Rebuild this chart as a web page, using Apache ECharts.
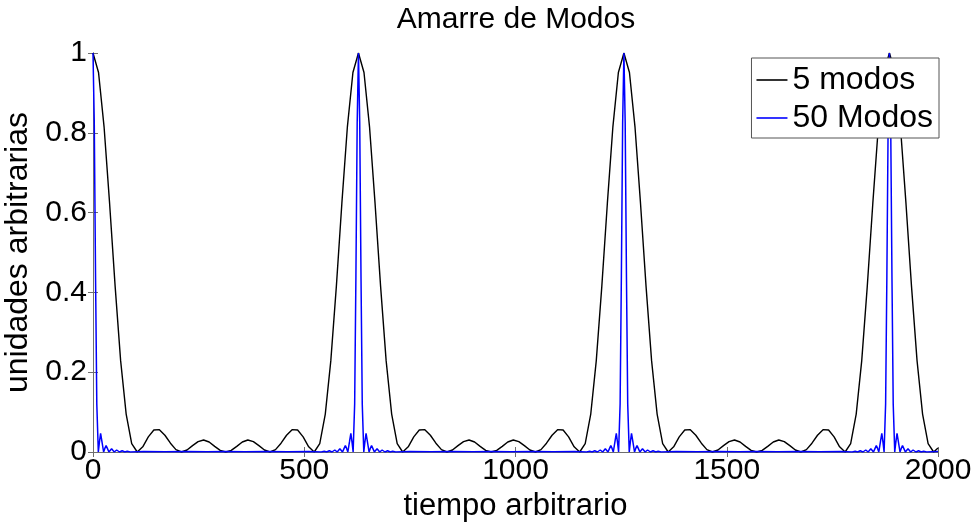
<!DOCTYPE html>
<html>
<head>
<meta charset="utf-8">
<script src="https://cdn.jsdelivr.net/npm/echarts@6/dist/echarts.min.js"></script>
<style>
html,body{margin:0;padding:0;background:#fff;}
#chart{width:979px;height:523px;}
</style>
</head>
<body>
<div id="chart"></div>
<script>
// ---- data ----
var titulo = 'Amarre de Modos';
var nombresSeries = ['5 modos', '50 Modos'];
var xTicks = [0, 500, 1000, 1500, 2000];
var yTicks = [0, 0.2, 0.4, 0.6, 0.8, 1];

// 5 modos (black)
var tiempo5 = [
0,13.1,26.2,39.3,52.4,65.4,78.5,91.6,104.7,117.8,130.9,144.0,157.1,170.2,183.3,196.3,209.4,222.5,235.6,248.7,261.8,274.9,288.0,301.1,
314.2,327.2,340.3,353.4,366.5,379.6,392.7,405.8,418.9,432.0,445.1,458.1,471.2,484.3,497.4,510.5,523.6,536.7,549.8,562.9,576.0,589.0,602.1,615.2,
628.3,641.4,654.5,667.6,680.7,693.8,706.9,720.0,733.0,746.1,759.2,772.3,785.4,798.5,811.6,824.7,837.8,850.8,863.9,877.0,890.1,903.2,916.3,929.4,
942.5,955.6,968.7,981.7,994.8,1007.9,1021.0,1034.1,1047.2,1060.3,1073.4,1086.5,1099.6,1112.7,1125.7,1138.8,1151.9,1165.0,1178.1,1191.2,1204.3,1217.4,1230.5,1243.5,
1256.6,1269.7,1282.8,1295.9,1309.0,1322.1,1335.2,1348.3,1361.4,1374.4,1387.5,1400.6,1413.7,1426.8,1439.9,1453.0,1466.1,1479.2,1492.3,1505.4,1518.4,1531.5,1544.6,1557.7,
1570.8,1583.9,1597.0,1610.1,1623.2,1636.2,1649.3,1662.4,1675.5,1688.6,1701.7,1714.8,1727.9,1741.0,1754.1,1767.1,1780.2,1793.3,1806.4,1819.5,1832.6,1845.7,1858.8,1871.9,
1885.0,1898.1,1911.1,1924.2,1937.3,1950.4,1963.5,1976.6,1989.7,2000
];
var valores5 = [
1,0.951,0.815,0.623,0.415,0.229,0.095,0.021,0,0.013,0.038,0.055,0.056,0.042,0.022,0.006,0,0.005,0.016,0.026,0.030,0.025,0.014,0.004,
0,0.004,0.014,0.025,0.030,0.026,0.016,0.005,0,0.006,0.022,0.042,0.056,0.055,0.038,0.013,0,0.021,0.095,0.229,0.415,0.623,0.815,0.951,
1,0.951,0.815,0.623,0.415,0.229,0.095,0.021,0,0.013,0.038,0.055,0.056,0.042,0.022,0.006,0,0.005,0.016,0.026,0.030,0.025,0.014,0.004,
0,0.004,0.014,0.025,0.030,0.026,0.016,0.005,0,0.006,0.022,0.042,0.056,0.055,0.038,0.013,0,0.021,0.095,0.229,0.415,0.623,0.815,0.951,
1,0.951,0.815,0.623,0.415,0.229,0.095,0.021,0,0.013,0.038,0.055,0.056,0.042,0.022,0.006,0,0.005,0.016,0.026,0.030,0.025,0.014,0.004,
0,0.004,0.014,0.025,0.030,0.026,0.016,0.005,0,0.006,0.022,0.042,0.056,0.055,0.038,0.013,0,0.021,0.095,0.229,0.415,0.623,0.815,0.951,
1,0.951,0.815,0.623,0.415,0.229,0.095,0.021,0,0.010
];

// 50 Modos (blue)
var tiempo50 = [
0,3,6,9,12.6,15,18,21,25.1,28,31,34,37.7,40.5,44,47,50.3,53,56,59,62.8,69,75.4,81,88,
120,170,220,270,314,360,410,460,510,
540.3,547.3,552.9,559.3,565.5,569.3,572.3,575.3,578.0,581.3,584.3,587.8,590.6,594.3,597.3,600.3,603.2,607.3,610.3,613.3,615.7,619.3,622.3,625.3,
628.3,631.3,634.3,637.3,640.9,643.3,646.3,649.3,653.4,656.3,659.3,662.3,666.0,668.8,672.3,675.3,678.6,681.3,684.3,687.3,691.1,697.3,703.7,709.3,716.3,
750,800,850,900,942.5,990,1040,1090,1140,
1168.6,1175.6,1181.2,1187.6,1193.8,1197.6,1200.6,1203.6,1206.3,1209.6,1212.6,1216.1,1218.9,1222.6,1225.6,1228.6,1231.5,1235.6,1238.6,1241.6,1244.0,1247.6,1250.6,1253.6,
1256.6,1259.6,1262.6,1265.6,1269.2,1271.6,1274.6,1277.6,1281.7,1284.6,1287.6,1290.6,1294.3,1297.1,1300.6,1303.6,1306.9,1309.6,1312.6,1315.6,1319.4,1325.6,1332.0,1337.6,1344.6,
1380,1430,1480,1530,1570.8,1620,1670,1720,1770,
1797.0,1804.0,1809.6,1816.0,1822.2,1826.0,1829.0,1832.0,1834.7,1838.0,1841.0,1844.5,1847.3,1851.0,1854.0,1857.0,1859.9,1864.0,1867.0,1870.0,1872.4,1876.0,1879.0,1882.0,
1885.0,1888.0,1891.0,1894.0,1897.6,1900.0,1903.0,1906.0,1910.1,1913.0,1916.0,1919.0,1922.7,1925.5,1929.0,1932.0,1935.3,1938.0,1941.0,1944.0,1947.8,1954.0,1960.4,1966.0,1973.0,
2000
];
var valores50 = [
1,0.826,0.442,0.120,0,0.023,0.047,0.027,0,0.009,0.016,0.009,0,0.004,0.008,0.004,0,0.002,0.005,0.003,0,0.003,0,0.002,0,
0.001,0.0008,0.001,0.0006,0.001,0.0007,0.001,0.0008,0.001,
0,0.002,0,0.003,0,0.003,0.005,0.002,0,0.004,0.008,0.004,0,0.009,0.016,0.009,0,0.027,0.047,0.023,0,0.120,0.442,0.826,
1,0.826,0.442,0.120,0,0.023,0.047,0.027,0,0.009,0.016,0.009,0,0.004,0.008,0.004,0,0.002,0.005,0.003,0,0.003,0,0.002,0,
0.001,0.0008,0.001,0.0006,0.001,0.0007,0.001,0.0008,0.001,
0,0.002,0,0.003,0,0.003,0.005,0.002,0,0.004,0.008,0.004,0,0.009,0.016,0.009,0,0.027,0.047,0.023,0,0.120,0.442,0.826,
1,0.826,0.442,0.120,0,0.023,0.047,0.027,0,0.009,0.016,0.009,0,0.004,0.008,0.004,0,0.002,0.005,0.003,0,0.003,0,0.002,0,
0.001,0.0008,0.001,0.0006,0.001,0.0007,0.001,0.0008,0.001,
0,0.002,0,0.003,0,0.003,0.005,0.002,0,0.004,0.008,0.004,0,0.009,0.016,0.009,0,0.027,0.047,0.023,0,0.120,0.442,0.826,
1,0.826,0.442,0.120,0,0.023,0.047,0.027,0,0.009,0.016,0.009,0,0.004,0.008,0.004,0,0.002,0.005,0.003,0,0.003,0,0.002,0,
0.001
];

// ---- build chart ----
function zip(t, v) { var out = []; for (var i = 0; i < t.length; i++) out.push([t[i], v[i]]); return out; }

var FONT = 'Liberation Sans, Arial, Helvetica, sans-serif';
var AXC = '#6e6e6e';
var chart = echarts.init(document.getElementById('chart'), null, {renderer: 'canvas'});

var commonX = {
  type: 'value', min: xTicks[0], max: xTicks[xTicks.length - 1], interval: xTicks[1] - xTicks[0],
  splitLine: {show: false},
  axisLine: {show: true, lineStyle: {color: AXC, width: 1}},
  axisTick: {show: true, inside: true, length: 5, lineStyle: {color: AXC}}
};
var commonY = {
  type: 'value', min: yTicks[0], max: yTicks[yTicks.length - 1], interval: yTicks[1] - yTicks[0],
  splitLine: {show: false},
  axisLine: {show: true, lineStyle: {color: AXC, width: 1}},
  axisTick: {show: true, inside: true, length: 5, lineStyle: {color: AXC}}
};

chart.setOption({
  animation: false,
  backgroundColor: '#ffffff',
  textStyle: {fontFamily: FONT},
  title: {
    text: titulo, left: 516, top: 5, padding: 0, textAlign: 'center',
    textStyle: {fontFamily: FONT, fontSize: 30, fontWeight: 'normal', color: '#000'}
  },
  legend: {
    data: nombresSeries, orient: 'vertical', right: 40, top: 58,
    backgroundColor: '#fff', borderColor: '#555', borderWidth: 1,
    padding: [6, 6, 4, 5], itemGap: 6, itemWidth: 31, itemHeight: 1.6, icon: 'rect',
    textStyle: {fontFamily: FONT, fontSize: 32, color: '#000'}
  },
  grid: {left: 93, right: 41, top: 53, bottom: 71, containLabel: false, outerBoundsMode: 'none'},
  xAxis: [
    Object.assign({}, commonX, {
      position: 'bottom', name: 'tiempo arbitrario', nameLocation: 'middle', nameGap: 33,
      nameTextStyle: {fontFamily: FONT, fontSize: 31, color: '#000'},
      axisLabel: {show: true, margin: 4, fontFamily: FONT, fontSize: 30, color: '#000',
        formatter: function (v) { return String(v); }}
    }),
    Object.assign({}, commonX, {position: 'top', axisLabel: {show: false}})
  ],
  yAxis: [
    Object.assign({}, commonY, {
      position: 'left', name: 'unidades arbitrarias', nameLocation: 'middle', nameGap: 47,
      nameTextStyle: {fontFamily: FONT, fontSize: 32, color: '#000'},
      axisLabel: {show: true, margin: 6, fontFamily: FONT, fontSize: 30, color: '#000'}
    }),
    Object.assign({}, commonY, {position: 'right', axisLabel: {show: false}})
  ],
  series: [
    {
      name: nombresSeries[0], type: 'line', xAxisIndex: 0, yAxisIndex: 0,
      data: zip(tiempo5, valores5), showSymbol: false, symbol: 'none',
      lineStyle: {color: '#000000', width: 1.4}, itemStyle: {color: '#000000'}, z: 2
    },
    {
      name: nombresSeries[1], type: 'line', xAxisIndex: 0, yAxisIndex: 0,
      data: zip(tiempo50, valores50), showSymbol: false, symbol: 'none',
      lineStyle: {color: '#0000ff', width: 1.5}, itemStyle: {color: '#0000ff'}, z: 3
    }
  ]
});
</script>
</body>
</html>
